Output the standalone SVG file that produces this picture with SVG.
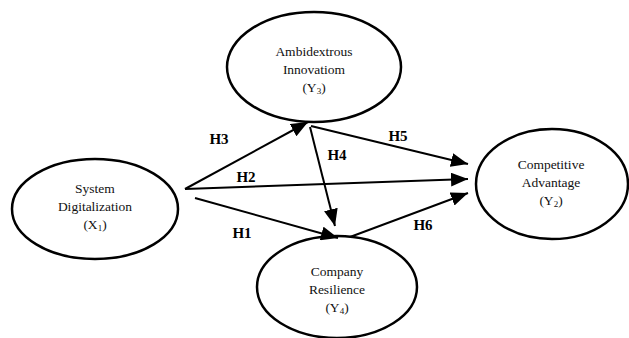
<svg xmlns="http://www.w3.org/2000/svg" width="629" height="338" viewBox="0 0 629 338">
<style>
.node{fill:#fff;stroke:#000;stroke-width:2.5}
.t{font-family:'Liberation Serif','DejaVu Serif','Times New Roman',serif;font-size:13.5px;fill:#111;text-anchor:middle}
.sub{font-size:9px}
.lbl{font-family:'Liberation Serif','DejaVu Serif','Times New Roman',serif;font-size:15px;font-weight:bold;fill:#000;text-anchor:middle}
.c{stroke:#000;stroke-width:2;fill:none;marker-end:url(#ah)}
</style>
<defs>
<marker id="ah" markerUnits="userSpaceOnUse" markerWidth="18" markerHeight="14" refX="17" refY="7" orient="auto">
<path d="M0,0 L17,7 L0,14 z" fill="#000"/>
</marker>
</defs>
<rect width="629" height="338" fill="#fff"/>
<g id="n-ambidextrous">
<ellipse class="node" cx="314" cy="67" rx="87" ry="55"/>
<text class="t" x="314" y="56">Ambidextrous</text>
<text class="t" x="314" y="74">Innovatiom</text>
<text class="t" x="314" y="92">(Y<tspan class="sub" dy="2">3</tspan><tspan dy="-2">)</tspan></text>
</g>
<g id="n-system">
<ellipse class="node" cx="95" cy="209" rx="83" ry="50"/>
<text class="t" x="95" y="193">System</text>
<text class="t" x="95" y="211">Digitalization</text>
<text class="t" x="95" y="229">(X<tspan class="sub" dy="2">1</tspan><tspan dy="-2">)</tspan></text>
</g>
<g id="n-competitive">
<ellipse class="node" cx="552" cy="184" rx="76" ry="55"/>
<text class="t" x="551" y="169">Competitive</text>
<text class="t" x="551" y="187">Advantage</text>
<text class="t" x="551" y="205">(Y<tspan class="sub" dy="2">2</tspan><tspan dy="-2">)</tspan></text>
</g>
<g id="n-company">
<ellipse class="node" cx="337" cy="287" rx="80" ry="51"/>
<text class="t" x="337" y="276">Company</text>
<text class="t" x="337" y="294">Resilience</text>
<text class="t" x="337" y="312">(Y<tspan class="sub" dy="2">4</tspan><tspan dy="-2">)</tspan></text>
</g>
<g id="connectors">
<line class="c" x1="185" y1="189" x2="308" y2="122"/>
<line class="c" x1="185" y1="189" x2="468" y2="179"/>
<line class="c" x1="195" y1="198" x2="338" y2="238"/>
<line class="c" x1="310" y1="127" x2="335" y2="226"/>
<line class="c" x1="311" y1="126" x2="468" y2="164"/>
<line class="c" x1="350" y1="237" x2="468" y2="193"/>
<text class="lbl" x="219" y="144">H3</text>
<text class="lbl" x="246" y="182">H2</text>
<text class="lbl" x="242" y="238">H1</text>
<text class="lbl" x="337" y="160">H4</text>
<text class="lbl" x="398" y="141">H5</text>
<text class="lbl" x="423" y="230">H6</text>
</g>
</svg>
